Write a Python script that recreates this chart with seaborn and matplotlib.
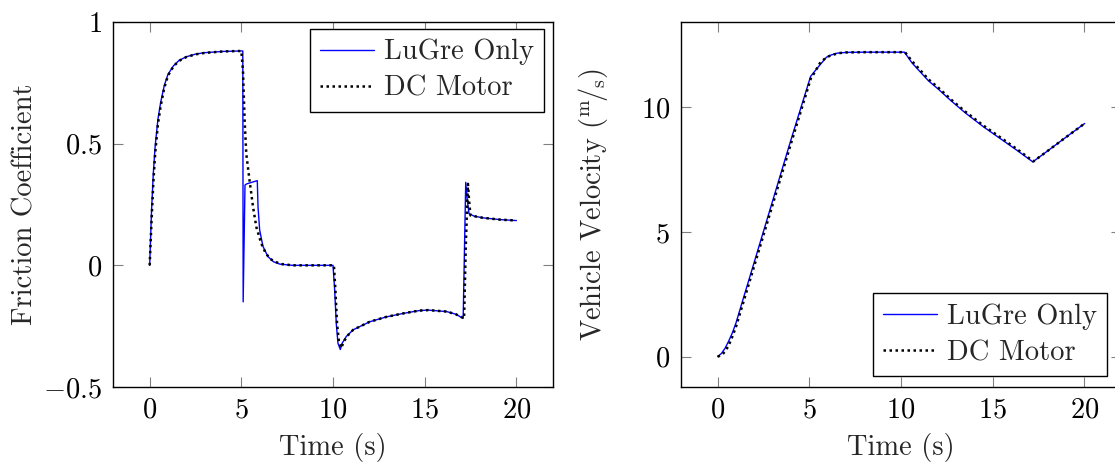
import seaborn as sns
import matplotlib.pyplot as plt
from matplotlib.ticker import FuncFormatter

# Friction coefficient, LuGre only (blue)
t_mu_lugre = [0, 0.1, 0.2, 0.3, 0.45, 0.6, 0.8, 1.0, 1.3, 1.6, 2.0, 2.5, 3.0, 4.0, 5.0,
              5.08, 5.1, 5.2, 5.3, 5.87, 5.91, 6.0, 6.18, 6.45, 6.75, 7.1, 7.8, 10.0,
              10.09, 10.18, 10.27, 10.4, 10.5, 10.73, 11.1, 12.0, 12.9, 13.8, 14.7, 15.2,
              16.2, 16.7, 17.1, 17.18, 17.24, 17.32, 17.42, 17.7, 18.2, 19.1, 20.0]
mu_lugre = [0, 0.22, 0.38, 0.49, 0.60, 0.67, 0.74, 0.785, 0.82, 0.842, 0.857, 0.868, 0.874, 0.879, 0.881,
            0.881, -0.15, 0.33, 0.335, 0.348, 0.24, 0.145, 0.078, 0.036, 0.015, 0.005, 0.0, 0.0,
            -0.10, -0.24, -0.32, -0.346, -0.32, -0.292, -0.265, -0.232, -0.212, -0.198, -0.186, -0.184,
            -0.19, -0.201, -0.218, 0.10, 0.341, 0.27, 0.212, 0.202, 0.195, 0.188, 0.184]

# Friction coefficient, DC motor (black dotted)
t_mu_dc = [0, 0.1, 0.2, 0.3, 0.45, 0.6, 0.8, 1.0, 1.3, 1.6, 2.0, 2.5, 3.0, 4.0, 5.0,
           5.09, 5.18, 5.27, 5.45, 5.64, 5.82, 6.09, 6.3, 6.55, 7.1, 7.8, 10.05,
           10.13, 10.22, 10.33, 10.45, 10.58, 10.82, 11.1, 12.0, 12.9, 13.8, 14.7, 15.2,
           16.2, 16.7, 17.15, 17.25, 17.36, 17.43, 17.5, 17.7, 18.2, 19.1, 20.0]
mu_dc = [0, 0.18, 0.34, 0.46, 0.58, 0.655, 0.73, 0.78, 0.818, 0.84, 0.856, 0.867, 0.873, 0.879, 0.881,
         0.80, 0.594, 0.458, 0.348, 0.239, 0.157, 0.089, 0.055, 0.027, 0.006, 0.0, 0.0,
         -0.10, -0.239, -0.32, -0.34, -0.314, -0.287, -0.265, -0.232, -0.212, -0.198, -0.186, -0.184,
         -0.19, -0.201, -0.218, 0.10, 0.335, 0.26, 0.205, 0.202, 0.195, 0.188, 0.184]

# Vehicle velocity, LuGre only
t_v_lugre = [0, 0.2, 0.4, 0.6, 0.8, 1.0, 1.43, 2.0, 3.0, 4.0, 5.07, 5.5, 5.94, 6.2, 6.52, 7.0, 8.0,
             10.19, 10.6, 11.06, 11.5, 12.06, 12.7, 13.5, 14.51, 15.5, 16.33, 17.19, 18.0, 19.0, 20.02]
v_lugre = [0, 0.12, 0.33, 0.62, 0.95, 1.35, 2.41, 3.8, 6.25, 8.7, 11.24, 11.63, 12.01, 12.1, 12.17, 12.2, 12.21,
           12.21, 11.78, 11.41, 11.06, 10.71, 10.28, 9.78, 9.21, 8.7, 8.27, 7.81, 8.25, 8.8, 9.35]

# Vehicle velocity, DC motor
t_v_dc = [0, 0.2, 0.4, 0.6, 0.8, 1.0, 1.43, 2.0, 3.0, 4.0, 5.1, 5.25, 5.61, 5.9, 6.16, 6.6, 7.0, 8.0,
          10.22, 10.6, 11.06, 11.5, 12.06, 12.7, 13.5, 14.51, 15.5, 16.33, 17.22, 18.0, 19.0, 20.02]
v_dc = [0, 0.05, 0.2, 0.45, 0.8, 1.2, 2.25, 3.65, 6.1, 8.55, 11.2, 11.35, 11.81, 11.98, 12.08, 12.17, 12.2, 12.21,
        12.21, 11.85, 11.48, 11.12, 10.77, 10.33, 9.83, 9.26, 8.75, 8.32, 7.83, 8.25, 8.8, 9.35]

FS = 20.5
DOTS = (0, (1.0, 1.4))

sns.set_theme(style="white")
plt.rcParams.update({
    "font.family": "serif",
    "font.serif": ["cmr10"],
    "mathtext.fontset": "cm",
    "axes.formatter.use_mathtext": True,
    "font.size": FS,
    "axes.labelsize": FS,
    "axes.edgecolor": "black",
    "axes.linewidth": 1.0,
    "xtick.direction": "in",
    "ytick.direction": "in",
    "xtick.top": True,
    "ytick.right": True,
    "xtick.bottom": True,
    "ytick.left": True,
    "xtick.major.size": 7,
    "ytick.major.size": 7,
    "xtick.major.width": 0.8,
    "ytick.major.width": 0.8,
    "xtick.color": "#808080",
    "ytick.color": "#808080",
    "xtick.labelcolor": "black",
    "ytick.labelcolor": "black",
    "xtick.labelsize": FS,
    "ytick.labelsize": FS,
    "xtick.major.pad": 7,
    "ytick.major.pad": 8,
})

fig = plt.figure(figsize=(11.15, 4.66), dpi=100)
ax1 = fig.add_axes([113 / 1115, 79 / 466, 440 / 1115, 365 / 466])
ax2 = fig.add_axes([681 / 1115, 79 / 466, 440 / 1115, 365 / 466])

fmt = FuncFormatter(lambda v, p: f"${v:g}$")

sns.lineplot(x=t_mu_lugre, y=mu_lugre, ax=ax1, color="blue", lw=1.0,
             sort=False, estimator=None, label="LuGre Only")
sns.lineplot(x=t_mu_dc, y=mu_dc, ax=ax1, color="black", lw=1.8,
             linestyle=DOTS, sort=False, estimator=None, label="DC Motor")

sns.lineplot(x=t_v_lugre, y=v_lugre, ax=ax2, color="blue", lw=1.0,
             sort=False, estimator=None, label="LuGre Only")
sns.lineplot(x=t_v_dc, y=v_dc, ax=ax2, color="black", lw=1.8,
             linestyle=DOTS, sort=False, estimator=None, label="DC Motor")

for ax in (ax1, ax2):
    ax.set_xlim(-2, 22)
    ax.set_xticks([0, 5, 10, 15, 20])
    ax.xaxis.set_major_formatter(fmt)
    ax.yaxis.set_major_formatter(fmt)
    ax.set_xlabel("Time (s)", labelpad=7)

ax1.set_ylim(-0.5, 1)
ax1.set_yticks([-0.5, 0, 0.5, 1])
ax1.set_ylabel("Friction Coefficient", labelpad=3)

ax2.set_ylim(-1.22, 13.42)
ax2.set_yticks([0, 5, 10])
ax2.set_ylabel(r"Vehicle Velocity ($^{\mathrm{m}}\!/_{\mathrm{s}}$)", labelpad=22)

leg_kw = dict(frameon=True, fancybox=False, edgecolor="black", framealpha=1,
              borderaxespad=0, handlelength=1.9, handletextpad=0.35,
              borderpad=0.35, labelspacing=0.35, fontsize=FS)
l1 = ax1.legend(loc="upper right", bbox_to_anchor=(0.9795, 0.9808), **leg_kw)
l2 = ax2.legend(loc="lower right", bbox_to_anchor=(0.968, 0.030), **leg_kw)
for leg in (l1, l2):
    leg.get_frame().set_linewidth(1.0)

fig.savefig("out.png", dpi=100)
